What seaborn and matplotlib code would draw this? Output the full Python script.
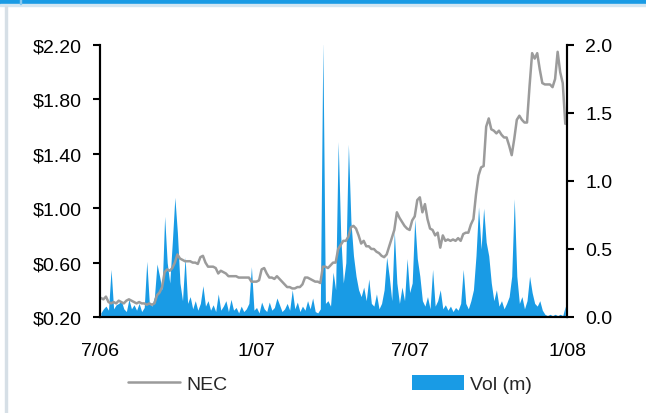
import matplotlib
matplotlib.use("Agg")
import matplotlib.pyplot as plt
import pandas as pd
import seaborn as sns
from matplotlib.lines import Line2D
from matplotlib.patches import Patch, Rectangle

# Sampling dates (every third calendar day, Jul 2006 - Dec 2007)
dates = pd.date_range("2006-07-02", periods=183, freq="3D")

# NEC share price ($)
price = [
    0.34, 0.33, 0.35, 0.31, 0.30, 0.31, 0.30, 0.32, 0.31, 0.30,
    0.32, 0.33, 0.32, 0.31, 0.30, 0.31, 0.30, 0.30, 0.29, 0.30,
    0.29, 0.30, 0.36, 0.38, 0.42, 0.53, 0.55, 0.54, 0.56, 0.60,
    0.66, 0.63, 0.62, 0.61, 0.61, 0.61, 0.60, 0.60, 0.59, 0.64,
    0.65, 0.60, 0.57, 0.57, 0.57, 0.56, 0.52, 0.54, 0.53, 0.52,
    0.50, 0.50, 0.50, 0.50, 0.49, 0.49, 0.49, 0.49, 0.49, 0.46,
    0.46, 0.46, 0.47, 0.55, 0.56, 0.52, 0.49, 0.49, 0.48, 0.50,
    0.48, 0.46, 0.44, 0.42, 0.42, 0.41, 0.41, 0.42, 0.42, 0.44,
    0.49, 0.49, 0.48, 0.47, 0.46, 0.46, 0.45, 0.57, 0.57, 0.56,
    0.58, 0.60, 0.60, 0.70, 0.73, 0.76, 0.76, 0.79, 0.86, 0.87,
    0.85, 0.80, 0.74, 0.76, 0.72, 0.72, 0.70, 0.70, 0.68, 0.67,
    0.65, 0.64, 0.66, 0.72, 0.78, 0.84, 0.97, 0.93, 0.90, 0.87,
    0.85, 0.84, 0.91, 0.94, 1.06, 1.08, 0.97, 1.03, 0.92, 0.85,
    0.84, 0.80, 0.82, 0.71, 0.80, 0.76, 0.77, 0.76, 0.77, 0.76,
    0.78, 0.76, 0.81, 0.82, 0.82, 0.88, 0.92, 1.10, 1.24, 1.30,
    1.31, 1.60, 1.66, 1.58, 1.57, 1.55, 1.57, 1.54, 1.52, 1.52,
    1.46, 1.39, 1.51, 1.65, 1.68, 1.65, 1.63, 1.63, 1.90, 2.14,
    2.10, 2.14, 2.02, 1.92, 1.91, 1.91, 1.91, 1.89, 1.95, 2.15,
    2.00, 1.92, 1.62,
]

# Traded volume (millions of shares)
volume = [
    0.03, 0.06, 0.08, 0.05, 0.35, 0.06, 0.09, 0.10, 0.12, 0.06,
    0.04, 0.13, 0.06, 0.09, 0.05, 0.10, 0.04, 0.07, 0.41, 0.10,
    0.08, 0.15, 0.39, 0.30, 0.20, 0.74, 0.40, 0.25, 0.55, 0.88,
    0.62, 0.25, 0.12, 0.44, 0.10, 0.15, 0.06, 0.12, 0.05, 0.10,
    0.23, 0.08, 0.12, 0.05, 0.09, 0.04, 0.17, 0.05, 0.08, 0.12,
    0.04, 0.13, 0.05, 0.07, 0.03, 0.08, 0.04, 0.06, 0.10, 0.37,
    0.05, 0.07, 0.03, 0.11, 0.06, 0.04, 0.11, 0.05, 0.07, 0.14,
    0.09, 0.04, 0.06, 0.10, 0.05, 0.20, 0.06, 0.11, 0.04, 0.08,
    0.05, 0.12, 0.06, 0.14, 0.04, 0.03, 0.06, 2.02, 0.10, 0.12,
    0.08, 0.33, 0.20, 1.29, 0.60, 0.25, 0.40, 1.27, 0.70, 0.45,
    0.30, 0.20, 0.15, 0.22, 0.12, 0.28, 0.10, 0.08, 0.17, 0.06,
    0.10, 0.20, 0.44, 0.30, 0.12, 0.63, 0.25, 0.10, 0.22, 0.12,
    0.43, 0.18, 0.25, 0.72, 0.43, 0.30, 0.12, 0.08, 0.15, 0.06,
    0.35, 0.08, 0.12, 0.20, 0.06, 0.09, 0.05, 0.08, 0.04, 0.07,
    0.05, 0.10, 0.35, 0.10, 0.06, 0.12, 0.20, 0.45, 0.81, 0.50,
    0.80, 0.55, 0.45, 0.25, 0.12, 0.20, 0.08, 0.12, 0.06, 0.10,
    0.15, 0.30, 0.87, 0.30, 0.10, 0.15, 0.06, 0.12, 0.30, 0.18,
    0.10, 0.08, 0.12, 0.05, 0.02, 0.01, 0.02, 0.01, 0.02, 0.01,
    0.02, 0.01, 0.08,
]

tick_dates = ["2006-07-01", "2007-01-01", "2007-07-01", "2008-01-01"]
tick_labels = ["7/06", "1/07", "7/07", "1/08"]
price_ticks = [0.20, 0.60, 1.00, 1.40, 1.80, 2.20]
vol_ticks = [0.0, 0.5, 1.0, 1.5, 2.0]
series_names = ["NEC", "Vol (m)"]

sns.set_theme(style="ticks")
plt.rcParams["font.family"] = ["Liberation Sans", "DejaVu Sans"]

BLUE = "#199be5"
GREY = "#9b9b9b"
FS = 14

df = pd.DataFrame({"date": dates, "price": price, "volume": volume})

W, H = 646, 414
fig = plt.figure(figsize=(W / 100, H / 100), dpi=100)
ax_vol = fig.add_axes([100 / W, 1 - 318 / H, 467 / W, 272 / H])
ax_vol.set_facecolor("white")
ax_px = ax_vol.twinx()

# volume area on the right-hand scale
ax_vol.fill_between(df["date"], 0, df["volume"], color=BLUE, linewidth=0)
ax_vol.set_ylim(0, 2.0)
ax_vol.yaxis.tick_right()
ax_vol.set_yticks(vol_ticks, labels=[f"{v:.1f}" for v in vol_ticks])

# price line on the left-hand scale, drawn over the volume
sns.lineplot(data=df, x="date", y="price", ax=ax_px, color=GREY, linewidth=1.8)
ax_px.set_ylim(0.20, 2.20)
ax_px.yaxis.tick_left()
ax_px.yaxis.set_label_position("left")
ax_px.set_yticks(price_ticks, labels=[f"${v:.2f}" for v in price_ticks])
ax_px.set_xlabel("")
ax_px.set_ylabel("")

ax_vol.set_xlim(pd.Timestamp(tick_dates[0]), pd.Timestamp(tick_dates[-1]))
ax_vol.set_xticks([pd.Timestamp(d) for d in tick_dates], labels=tick_labels)

for a in (ax_vol, ax_px):
    a.spines["top"].set_visible(False)
    for s in ("left", "right", "bottom"):
        a.spines[s].set_color("black")
        a.spines[s].set_linewidth(1.5)
    a.tick_params(axis="y", direction="out", length=5, width=1.5,
                  pad=8, labelsize=FS, colors="black")
ax_vol.tick_params(axis="x", length=0, pad=18, labelsize=FS, colors="black")

# page frame: blue header band and light borders
fig.patches.append(Rectangle((0, 1 - 5 / H), 1, 5 / H, transform=fig.transFigure,
                             color=BLUE, zorder=0))
fig.patches.append(Rectangle((0, 1 - 7 / H), 1, 2 / H, transform=fig.transFigure,
                             color="#d3e6f2", zorder=0))
fig.patches.append(Rectangle((20 / W, 1 - 5 / H), 1 / W, 5 / H, transform=fig.transFigure,
                             color="#86c8ef", zorder=1))
fig.patches.append(Rectangle((5 / W, 0), 2 / W, 1 - 7 / H, transform=fig.transFigure,
                             color="#d6dfe6", zorder=0))

handles = [Line2D([], [], color=GREY, linewidth=1.8), Patch(facecolor=BLUE, edgecolor="none")]
fig.legend(handles, series_names, loc="center", bbox_to_anchor=(330 / W, 1 - 385 / H),
           ncol=2, frameon=False, fontsize=FS, handlelength=2.7, handleheight=0.8,
           handletextpad=0.3, columnspacing=9.5)

fig.savefig("out.png", dpi=100)
